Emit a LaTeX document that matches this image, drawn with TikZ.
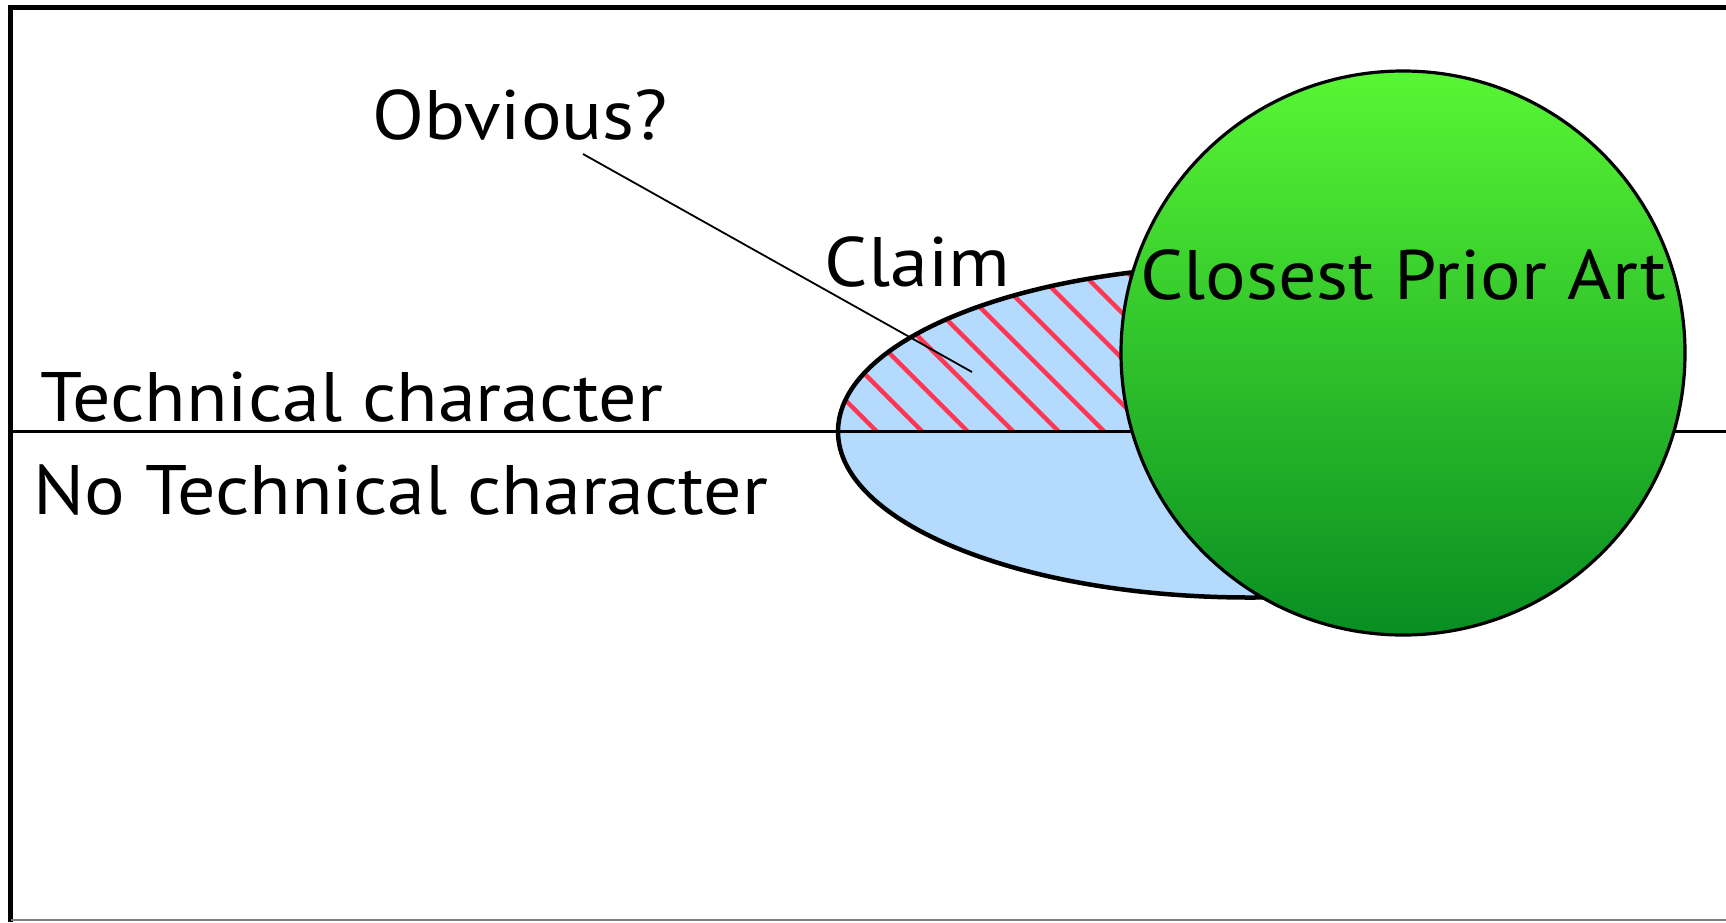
\documentclass[tikz,border=0pt]{standalone}
\usepackage{graphicx}
\usepackage{fontspec}
\setmainfont{PT Sans}
\definecolor{claimblue}{RGB}{180,218,253}
\definecolor{hatchred}{RGB}{255,55,85}
\definecolor{greentop}{RGB}{88,246,52}
\definecolor{greenbot}{RGB}{8,142,34}
\newcommand\widetext[1]{\scalebox{1.085}[1]{#1}}
\begin{document}
\begin{tikzpicture}[x=1pt,y=-1pt,
  lbl/.style={inner sep=0pt, anchor=base west, font=\fontsize{70}{74}\selectfont},
  hatch/.style={draw=hatchred, line width=4.5},
  outline/.style={draw=black, line width=4.5},
  leader/.style={draw=black, line width=1.8},
]
\useasboundingbox (0,0) rectangle (1726,922);
\fill[white] (0,0) rectangle (1726,922);
% frame
\draw[line width=5] (1726,7.5) -- (10.5,7.5) -- (10.5,922);
\draw[gray, line width=2] (10.5,919.5) -- (1726,919.5);
% claim ellipse
\fill[claimblue] (1250,431.5) ellipse [x radius=412, y radius=166];
\begin{scope}
  \clip (1250,431.5) ellipse [x radius=412, y radius=166];
  \clip (0,0) rectangle (1726,431.5);
  \foreach \k in {-2,...,12}
    \draw[hatch] ({876.7+45.5*\k-300},131.5) -- ({876.7+45.5*\k+100},531.5);
\end{scope}
% divider line
\coordinate (divL) at (10.5,431.5);
\coordinate (divR) at (1726,431.5);
\draw[line width=3.4] (divL) -- (divR);
\draw[outline] (1250,431.5) ellipse [x radius=412, y radius=166];
% closest prior art circle
\node[circle, draw=black, line width=3.2, minimum size=564, inner sep=0pt,
      top color=greentop, bottom color=greenbot] (cpa) at (1403,353) {};
% texts
\node[lbl, anchor=base] (cpatext) at (1403,299) {\widetext{Closest Prior Art}};
\node[lbl, anchor=base] (claim) at (917.5,286) {\widetext{Claim}};
\node[lbl, anchor=base] (obv) at (520,139) {\widetext{Obvious?}};
\node[lbl] (tech) at (40,421.5) {\widetext{Technical character}};
\node[lbl] (notech) at (33,514) {\widetext{No Technical character}};
% leader
\coordinate (leadstart) at (583,154);
\coordinate (leadend) at (972,372);
\draw[leader] (leadstart) -- (leadend);
\end{tikzpicture}
\end{document}
